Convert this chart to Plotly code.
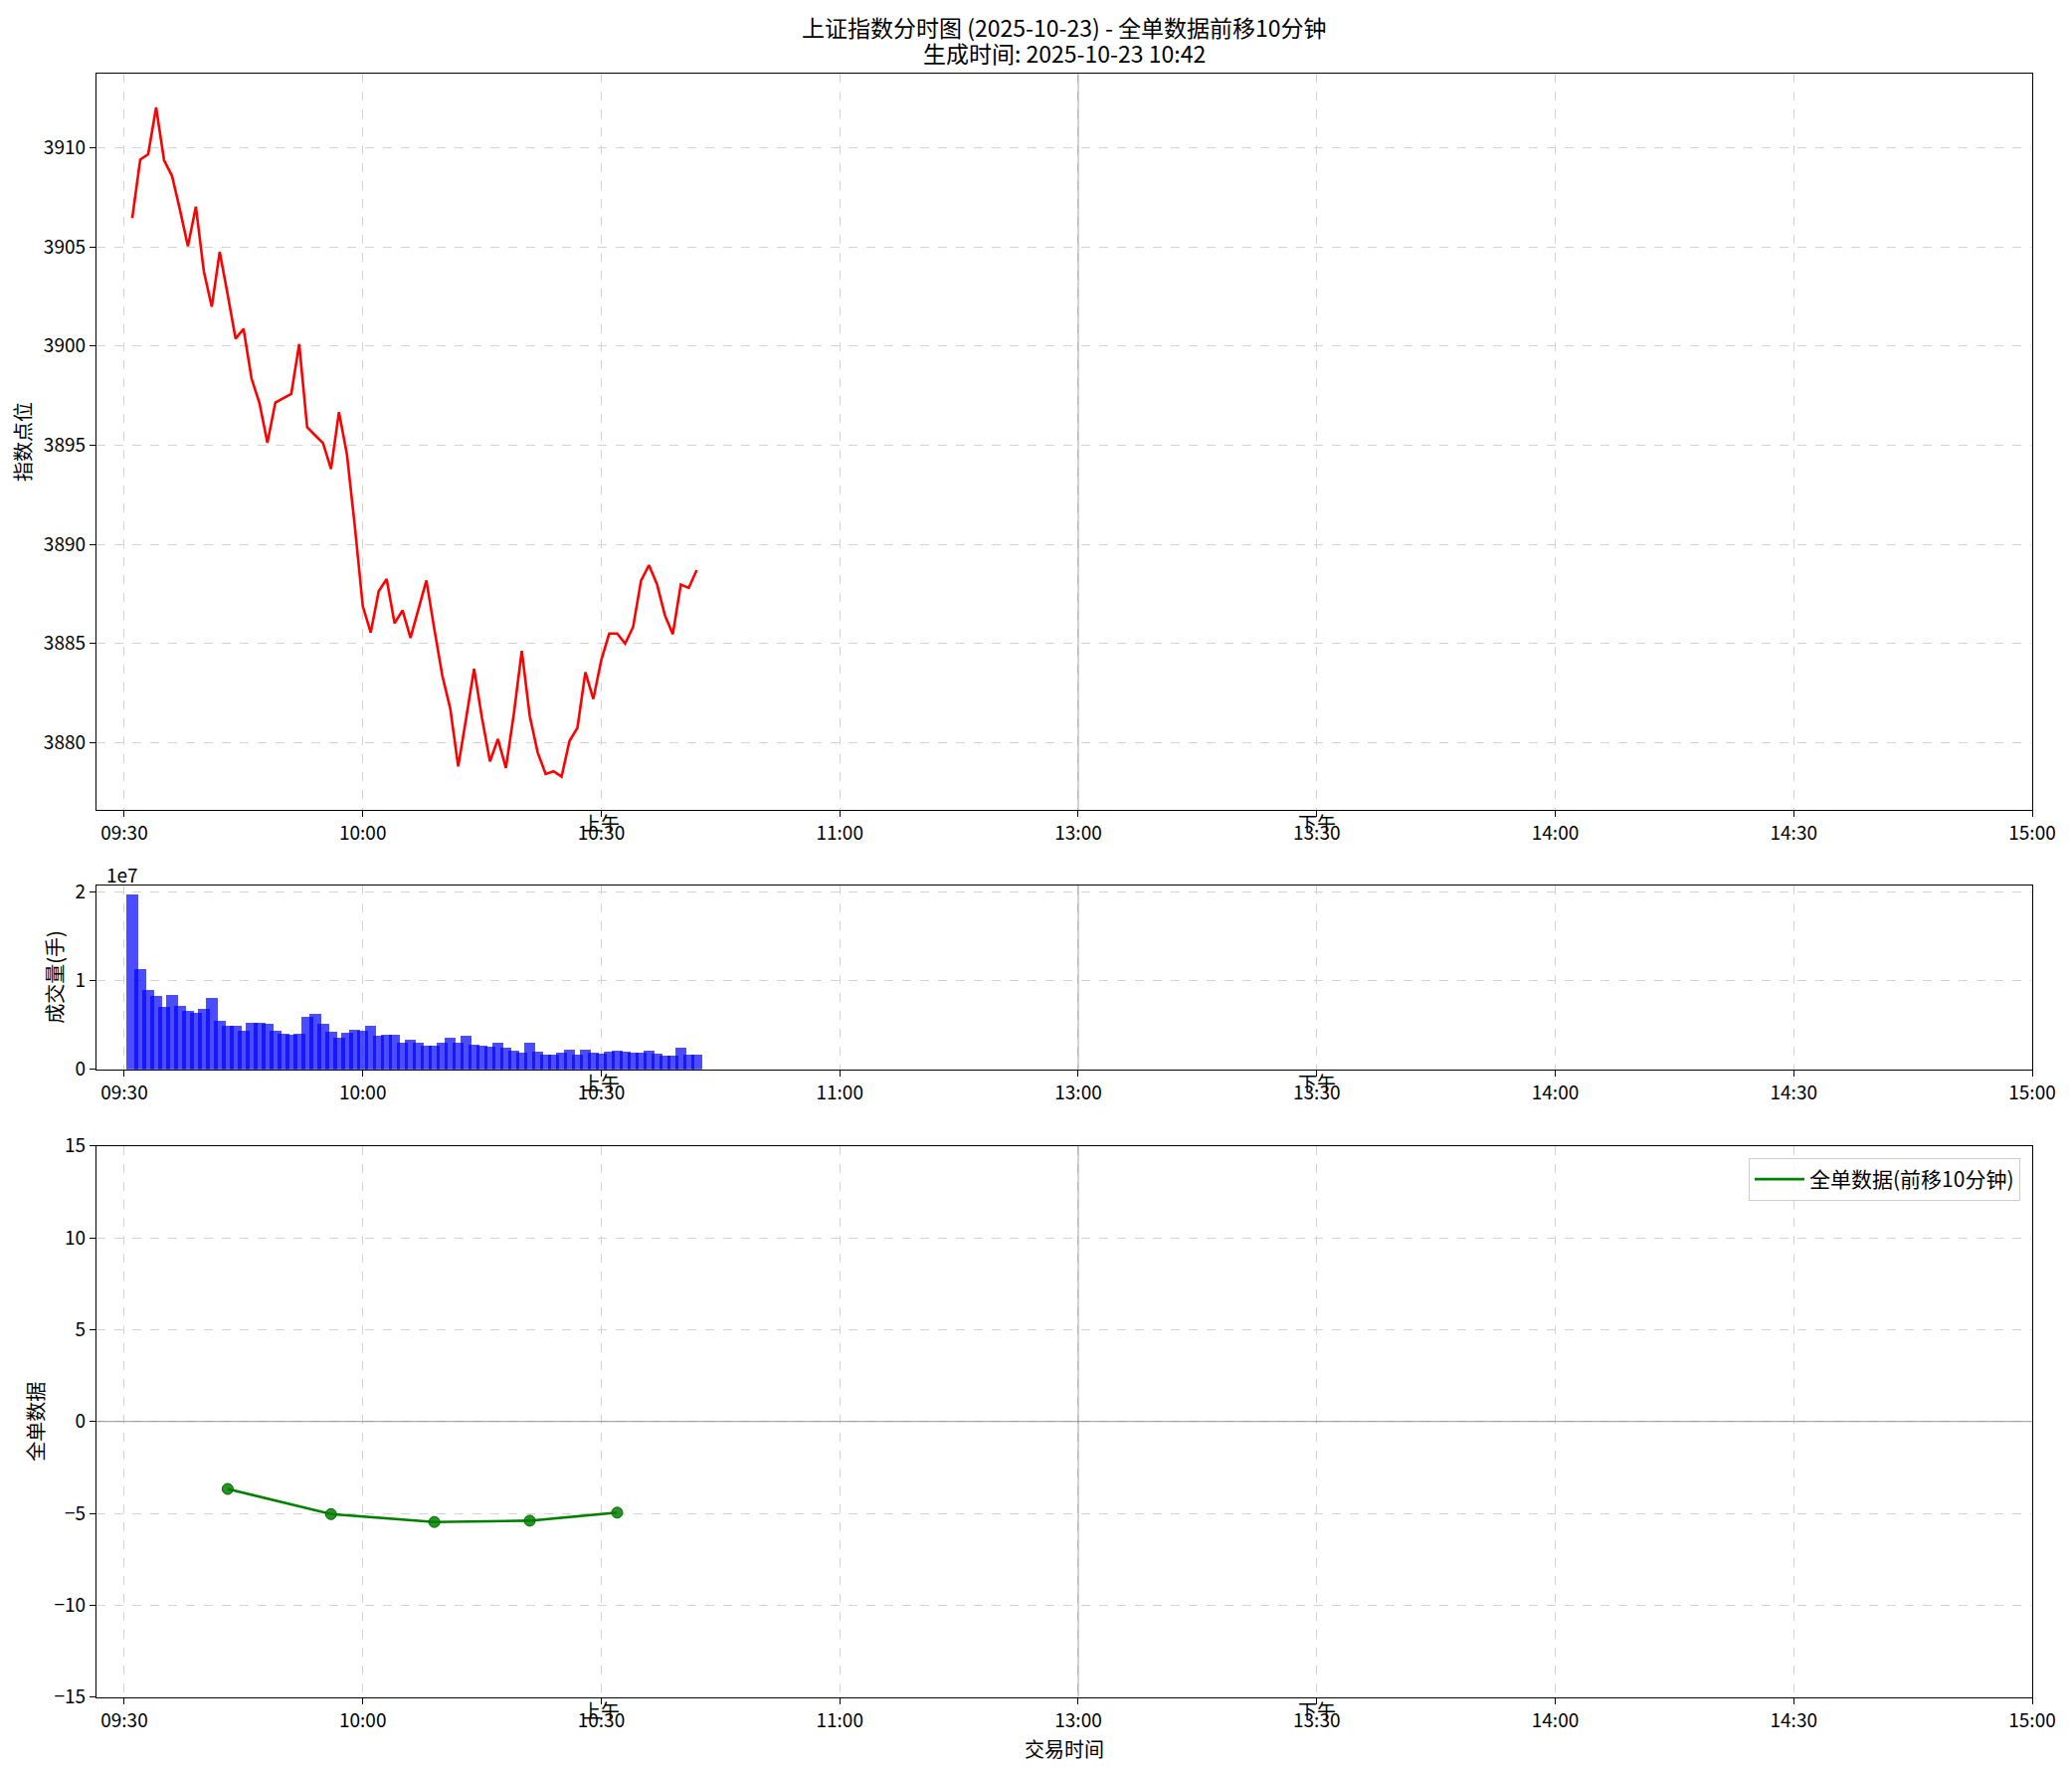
import plotly.graph_objects as go

# ---------------- data ----------------
title_line1 = "上证指数分时图 (2025-10-23) - 全单数据前移10分钟"
title_line2 = "生成时间: 2025-10-23 10:42"

tick_labels = ["09:30", "10:00", "10:30", "11:00", "13:00", "13:30", "14:00", "14:30", "15:00"]
tick_minutes = [0, 30, 60, 90, 120, 150, 180, 210, 240]

# one point per minute from 09:31 to 10:42
price_times = ["09:%02d" % m for m in range(31, 60)] + ["10:%02d" % m for m in range(0, 43)]
price = [3906.45, 3909.4, 3909.67, 3912.03, 3909.37, 3908.58, 3906.87, 3905.03, 3907.03, 3903.78,
         3901.98, 3904.75, 3902.6, 3900.37, 3900.87, 3898.37, 3897.12, 3895.12, 3897.15, 3897.37,
         3897.58, 3900.1, 3895.9, 3895.5, 3895.1, 3893.8, 3896.67, 3894.55, 3890.9, 3886.88,
         3885.55, 3887.63, 3888.25, 3886.02, 3886.67, 3885.28, 3886.8, 3888.18, 3885.72, 3883.38,
         3881.72, 3878.8, 3881.22, 3883.72, 3881.22, 3879.05, 3880.18, 3878.72, 3881.45, 3884.63,
         3881.35, 3879.5, 3878.42, 3878.55, 3878.28, 3880.08, 3880.75, 3883.55, 3882.2, 3884.17,
         3885.5, 3885.5, 3885.0, 3885.83, 3888.17, 3888.95, 3888.0, 3886.42, 3885.47, 3887.97,
         3887.8, 3888.7]

volume = [19740000, 11320000, 8940000, 8300000, 7020000, 8420000, 7170000, 6600000, 6380000, 6830000,
          8080000, 5470000, 4910000, 4910000, 4340000, 5250000, 5250000, 5130000, 4340000, 4000000,
          3890000, 4000000, 5920000, 6260000, 5130000, 4230000, 3550000, 4110000, 4450000, 4340000,
          4960000, 3800000, 3850000, 3950000, 3000000, 3350000, 3000000, 2700000, 2700000, 3000000,
          3550000, 3000000, 3750000, 2800000, 2700000, 2600000, 3000000, 2450000, 2100000, 1900000,
          3000000, 2000000, 1700000, 1700000, 1900000, 2200000, 1700000, 2200000, 1900000, 1800000,
          2000000, 2100000, 2000000, 1900000, 1900000, 2100000, 1800000, 1500000, 1500000, 2400000,
          1700000, 1700000]

flow_times = ["09:43", "09:56", "10:09", "10:21", "10:32"]
flow_values = [-3.67, -5.04, -5.47, -5.40, -4.96]
flow_name = "全单数据(前移10分钟)"

session_labels = ["上午", "下午"]
session_times = ["10:30", "13:30"]


def to_minute(t):
    h, m = map(int, t.split(":"))
    mins = h * 60 + m
    if mins <= 11 * 60 + 30:
        return mins - (9 * 60 + 30)
    return mins - 13 * 60 + 120


price_x = [to_minute(t) for t in price_times]
flow_x = [to_minute(t) for t in flow_times]
session_x = [to_minute(t) for t in session_times]

# ---------------- figure ----------------
OFF = 8                      # page body margin
W, H = 2083 - OFF, 1783 - OFF
FONT = "Noto Sans CJK SC, Noto Sans, sans-serif"


def px(p):   # page x pixel -> paper
    return (p - OFF) / W


def py(p):   # page y pixel (from top) -> paper
    return 1 - (p - OFF) / H


fig = go.Figure()

fig.add_trace(go.Scatter(x=price_x, y=price, mode="lines", line=dict(color="red", width=2.6),
                         showlegend=False, xaxis="x", yaxis="y"))
fig.add_trace(go.Bar(x=price_x, y=volume, width=1.44, marker=dict(color="blue", opacity=0.7, line=dict(width=0)),
                     showlegend=False, xaxis="x2", yaxis="y2"))
fig.add_trace(go.Scatter(x=flow_x, y=flow_values, mode="lines", name=flow_name,
                         line=dict(color="green", width=2.6), xaxis="x3", yaxis="y3"))
fig.add_trace(go.Scatter(x=flow_x, y=flow_values, mode="markers", showlegend=False,
                         marker=dict(size=11, color="rgba(0,128,0,0.85)", line=dict(color="darkgreen", width=1)),
                         xaxis="x3", yaxis="y3"))

xdom = [px(97), px(2043)]
doms = [
    [py(814.3), py(74.4)],
    [py(1074.7), py(890)],
    [py(1705.7), py(1151.7)],
]

pmin, pmax = min(price), max(price)
pm = (pmax - pmin) * 0.05
vmax = max(volume) * 1.05

axis_common = dict(showline=True, linecolor="black", linewidth=1.3, mirror=True,
                   ticks="outside", ticklen=6, tickcolor="black", tickwidth=1.2,
                   showgrid=True, gridcolor="#d3d3d3", griddash="dash", gridwidth=1,
                   zeroline=False, automargin=False,
                   tickfont=dict(family=FONT, size=19, color="black"))

xcommon = dict(axis_common, range=[-3.5, 240], tickmode="array", tickvals=tick_minutes,
               ticktext=tick_labels, domain=xdom)

layout = dict(
    width=W, height=H, margin=dict(l=0, r=0, t=0, b=0, pad=0), autosize=False,
    paper_bgcolor="white", plot_bgcolor="white",
    font=dict(family=FONT, size=19, color="black"),
    xaxis=dict(xcommon, anchor="y"),
    xaxis2=dict(xcommon, anchor="y2"),
    xaxis3=dict(xcommon, anchor="y3"),
    yaxis=dict(axis_common, domain=doms[0], anchor="x", range=[pmin - pm, pmax + pm],
               tickmode="array", tickvals=[3880, 3885, 3890, 3895, 3900, 3905, 3910]),
    yaxis2=dict(axis_common, domain=doms[1], anchor="x2", range=[0, vmax],
                tickmode="array", tickvals=[0, 1e7, 2e7], ticktext=["0", "1", "2"]),
    yaxis3=dict(axis_common, domain=doms[2], anchor="x3", range=[-15, 15],
                tickmode="array", tickvals=[-15, -10, -5, 0, 5, 10, 15]),
    bargap=0,
    barmode="overlay",
    showlegend=True,
    legend=dict(x=px(2031), xanchor="right", y=py(1164), yanchor="top",
                bgcolor="rgba(255,255,255,0.8)", bordercolor="#cccccc", borderwidth=1,
                itemwidth=50, font=dict(family=FONT, size=21)),
)
fig.update_layout(**layout)

# lunch-break separator and zero line
for xr in ["x", "x2", "x3"]:
    yr = {"x": "y", "x2": "y2", "x3": "y3"}[xr]
    fig.add_shape(type="line", xref=xr, yref=yr + " domain", x0=120, x1=120, y0=0, y1=1,
                  line=dict(color="gray", width=1), opacity=0.7)
fig.add_shape(type="line", xref="x3 domain", yref="y3", x0=0, x1=1, y0=0, y1=0,
              line=dict(color="gray", width=1), opacity=0.8)

annotations = []
# title (two lines)
xc = (xdom[0] + xdom[1]) / 2
for txt, yy in [(title_line1, 26.6), (title_line2, 53.0)]:
    annotations.append(dict(text=txt, x=xc, y=py(yy), xref="paper", yref="paper", xanchor="center",
                            yanchor="middle", showarrow=False, font=dict(family=FONT, size=23, color="black")))
# session labels under each panel
for xr, d in zip(["x", "x2", "x3"], doms):
    for lab, sx in zip(session_labels, session_x):
        annotations.append(dict(text=lab, x=sx, y=d[0], xref=xr, yref="paper", xanchor="center",
                                yanchor="top", showarrow=False, yshift=3,
                                font=dict(family=FONT, size=19, color="black")))
# axis titles
ylab_common = dict(xref="paper", yref="paper", textangle=-90, showarrow=False,
                   xanchor="center", yanchor="middle", font=dict(family=FONT, size=20))
annotations.append(dict(ylab_common, text="指数点位", x=px(22.6), y=(doms[0][0] + doms[0][1]) / 2))
annotations.append(dict(ylab_common, text="成交量(手)", x=px(54.5), y=(doms[1][0] + doms[1][1]) / 2))
annotations.append(dict(ylab_common, text="全单数据", x=px(36), y=(doms[2][0] + doms[2][1]) / 2))
annotations.append(dict(text="交易时间", x=xc, y=py(1757.5), xref="paper",
                        yref="paper", xanchor="center", yanchor="middle", showarrow=False,
                        font=dict(family=FONT, size=20)))
annotations.append(dict(text="1e7", x=px(123), y=py(878), xref="paper", yref="paper",
                        xanchor="center", yanchor="middle", showarrow=False, font=dict(family=FONT, size=19)))
fig.update_layout(annotations=annotations)

fig.write_html("out.html")
